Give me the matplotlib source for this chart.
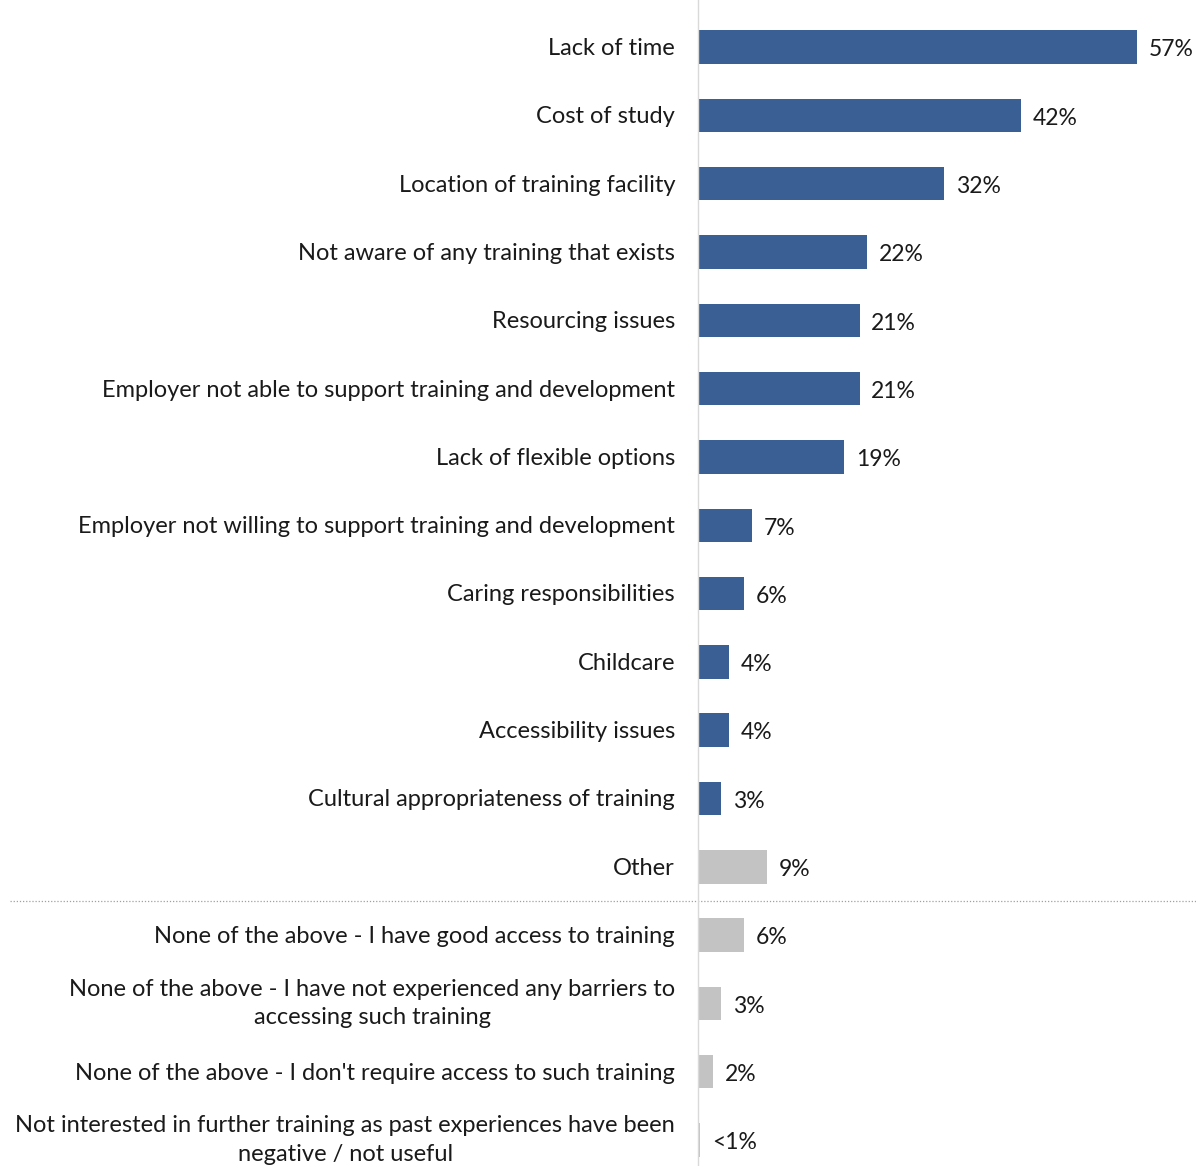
import matplotlib
matplotlib.use("Agg")
import matplotlib.pyplot as plt

plt.rcParams['font.family'] = ['Lato', 'DejaVu Sans']

labels = [
    "Lack of time",
    "Cost of study",
    "Location of training facility",
    "Not aware of any training that exists",
    "Resourcing issues",
    "Employer not able to support training and development",
    "Lack of flexible options",
    "Employer not willing to support training and development",
    "Caring responsibilities",
    "Childcare",
    "Accessibility issues",
    "Cultural appropriateness of training",
    "Other",
    "None of the above - I have good access to training",
    "None of the above - I have not experienced any barriers to\naccessing such training",
    "None of the above - I don't require access to such training",
    "Not interested in further training as past experiences have been\nnegative / not useful",
]
values = [57, 42, 32, 22, 21, 21, 19, 7, 6, 4, 4, 3, 9, 6, 3, 2, 0.3]
value_text = ["57%", "42%", "32%", "22%", "21%", "21%", "19%", "7%", "6%",
              "4%", "4%", "3%", "9%", "6%", "3%", "2%", "<1%"]
n_barriers = 12  # first 12 rows are the blue barrier items

blue = "#3A5F94"
grey = "#C3C3C3"
text_col = "#1A1A1A"
colors = [blue] * n_barriers + [grey] * (len(labels) - n_barriers)

W, H = 1196, 1166
fig = plt.figure(figsize=(W / 100, H / 100), dpi=100)
ax_left = 698 / W
ax = fig.add_axes([ax_left, 0, 1 - ax_left, 1])

ypos = list(range(len(labels)))
ax.barh(ypos, values, height=0.49, color=colors)

px_per_pct = 7.7
ax.set_xlim(0, (W - 698) / px_per_pct)
ax.set_ylim(16.38, -0.69)

for y, v, t in zip(ypos, values, value_text):
    ax.text(v + 1.5, y + 0.04, t, va="center", ha="left", fontsize=16.5, color=text_col)

# category labels, right-aligned against the axis line
for y, lab in zip(ypos, labels):
    dy = 0 if "\n" in lab else -1
    ax.annotate(lab, xy=(0, y), xycoords=("axes fraction", "data"),
                xytext=(-16.5, dy), textcoords="offset points",
                ha="right", va="center", multialignment="center",
                linespacing=1.45, fontsize=17, color=text_col,
                annotation_clip=False)

ax.set_yticks([])
ax.set_xticks([])

for s in ["top", "right", "bottom"]:
    ax.spines[s].set_visible(False)
ax.spines["left"].set_color("#D9D9D9")
ax.spines["left"].set_linewidth(1.0)

# dotted divider between the barriers and the "none of the above" answers
ax.axhline(12.5, xmin=(10 - 698) / (W - 698), xmax=1.0, color="#A0A0A0",
           linestyle=(0, (1, 1.5)), linewidth=0.9, clip_on=False)

fig.savefig("out.png", dpi=100)
